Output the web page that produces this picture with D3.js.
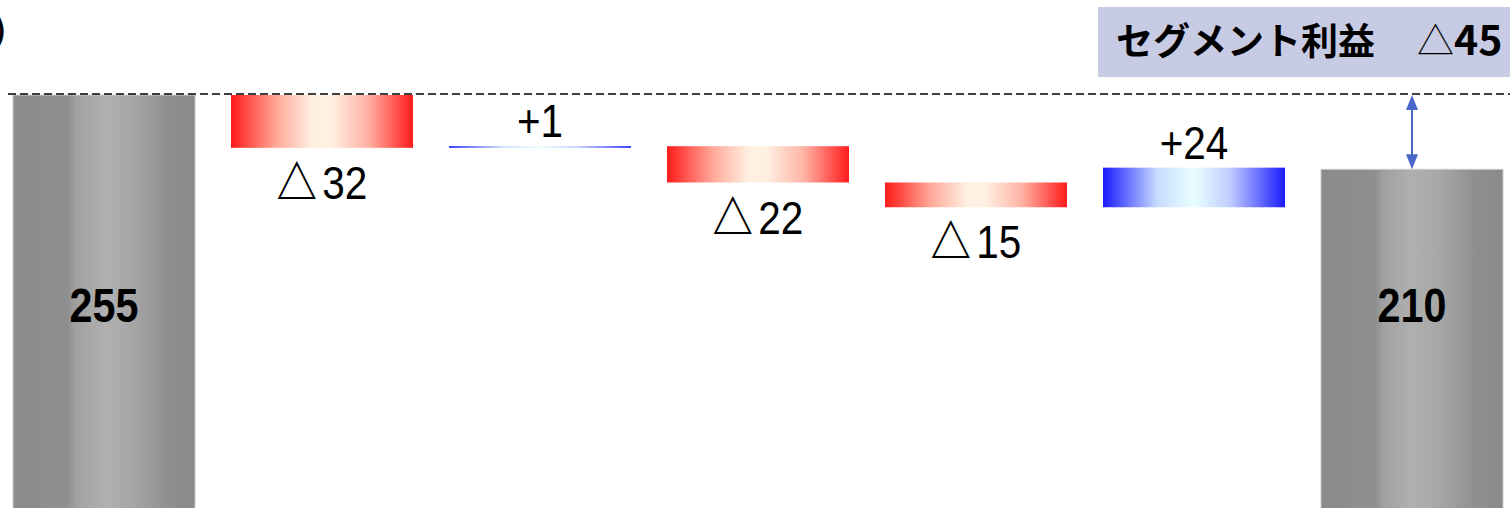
<!DOCTYPE html>
<html>
<head>
	<meta charset="utf-8">
	<title>セグメント利益</title>
	<script src="https://d3js.org/d3.v7.min.js" charset="utf-8"></script>
	<style>
		body { margin: 0; background: #fff; }
	</style>
</head>
<body>
<script type="text/javascript">
	// data
	var categories = ["前期", "要因1", "要因2", "要因3", "要因4", "要因5", "当期"];
	var startTotal = 255;
	var deltas = [-32, 1, -22, -15, 24];
	var endTotal = 210;
	var titleText = "セグメント利益";
	var unitText = "(億円)";

	var svgWidth = 1510,
	    svgHeight = 508;

	var svg = d3.select("body")
		.append("svg")
		.attr("width", svgWidth)
		.attr("height", svgHeight);

	// build waterfall steps
	var steps = [];
	var level = startTotal;
	steps.push({ cat: categories[0], kind: "total", from: 0, to: startTotal, value: startTotal });
	deltas.forEach(function(d, i) {
		steps.push({ cat: categories[i + 1], kind: d < 0 ? "neg" : "pos", from: level, to: level + d, value: d });
		level += d;
	});
	steps.push({ cat: categories[categories.length - 1], kind: "total", from: 0, to: endTotal, value: endTotal });

	var x = d3.scaleBand()
		.domain(categories)
		.range([-5, 1521])
		.paddingInner(0.165)
		.paddingOuter(0.0825);

	var y = d3.scaleLinear()
		.domain([0, startTotal])
		.range([516, 95]);

	// gradients
	var defs = svg.append("defs");
	function gradient(id, stops) {
		var g = defs.append("linearGradient")
			.attr("id", id)
			.attr("x1", "0%").attr("x2", "100%")
			.attr("y1", "0%").attr("y2", "0%");
		stops.forEach(function(s) {
			g.append("stop").attr("offset", s[0]).attr("stop-color", s[1]);
		});
	}
	gradient("gray", [[0, "#8b8b8b"], [0.3, "#8f8f8f"], [0.34, "#a0a0a0"], [0.5, "#b0b0b0"], [0.66, "#a6a6a6"], [0.85, "#8f8f8f"], [1, "#8a8a8a"]]);
	gradient("red", [[0, "#ff1a1a"], [0.25, "#ffa898"], [0.45, "#fff0e2"], [0.55, "#fff0e2"], [0.75, "#ffb4a6"], [1, "#ff1a1a"]]);
	gradient("blue", [[0, "#1a1aff"], [0.3, "#c8dcff"], [0.5, "#e8ffff"], [0.7, "#c0ccff"], [1, "#1a1aff"]]);

	var fillFor = { total: "url(#gray)", neg: "url(#red)", pos: "url(#blue)" };

	// unit label (cut off at left, as in the original slide)
	svg.append("text")
		.text(unitText)
		.attr("x", 6)
		.attr("y", 41)
		.attr("text-anchor", "end")
		.style("font-family", "'Noto Sans CJK JP', sans-serif")
		.style("font-weight", "bold")
		.style("font-size", "30px");

	// bars
	svg.selectAll(".bar")
		.data(steps)
		.enter().append("rect")
		.attr("class", "bar")
		.attr("x", function(d) { return x(d.cat); })
		.attr("width", x.bandwidth())
		.attr("y", function(d) { return y(Math.max(d.from, d.to)); })
		.attr("height", function(d) { return Math.abs(y(d.from) - y(d.to)); })
		.style("fill", function(d) { return fillFor[d.kind]; })
		.style("stroke", function(d) { return d.kind == "total" ? "#cdcdcd" : "none"; })
		.style("stroke-width", 1);

	// dashed reference line at start level
	svg.append("line")
		.attr("x1", 8)
		.attr("x2", svgWidth)
		.attr("y1", y(startTotal) - 1)
		.attr("y2", y(startTotal) - 1)
		.style("stroke", "#000")
		.style("stroke-width", 1.6)
		.style("stroke-dasharray", "8,4");

	// total labels
	svg.selectAll(".totalLabel")
		.data(steps.filter(function(d) { return d.kind == "total"; }))
		.enter().append("text")
		.attr("class", "totalLabel")
		.attr("transform", function(d) { return "translate(" + (x(d.cat) + x.bandwidth() / 2) + ",322) scale(0.86,1)"; })
		.attr("text-anchor", "middle")
		.style("font-family", "'Liberation Sans', Arial, sans-serif")
		.style("font-weight", "bold")
		.style("font-size", "48px")
		.text(function(d) { return d.value; });

	// delta labels
	var dl = svg.selectAll(".deltaLabel")
		.data(steps.filter(function(d) { return d.kind != "total"; }))
		.enter().append("text")
		.attr("class", "deltaLabel")
		.attr("transform", function(d) {
			var cx = x(d.cat) + x.bandwidth() / 2;
			var ty = d.kind == "neg" ? y(d.to) + 51 : y(d.to) - 9;
			return "translate(" + cx + "," + ty + ") scale(0.88,1)";
		})
		.attr("text-anchor", "middle")
		.style("font-family", "'Liberation Sans', Arial, sans-serif")
		.style("font-size", "46px");
	dl.append("tspan")
		.style("font-family", function(d) { return d.value < 0 ? "'Noto Sans CJK JP', sans-serif" : "'Liberation Sans', sans-serif"; })
		.style("font-weight", function(d) { return d.value < 0 ? "700" : "400"; })
		.text(function(d) { return d.value < 0 ? "△" : "+"; });
	dl.append("tspan")
		.attr("dx", function(d) { return d.value < 0 ? 6 : 0; })
		.text(function(d) { return Math.abs(d.value); });

	// difference arrow on last bar
	var last = steps[steps.length - 1];
	var ax = x(last.cat) + x.bandwidth() / 2;
	var aTop = y(startTotal), aBot = y(endTotal);
	svg.append("line")
		.attr("x1", ax).attr("x2", ax)
		.attr("y1", aTop + 8).attr("y2", aBot - 8)
		.style("stroke", "#4a66c8")
		.style("stroke-width", 2);
	svg.append("path")
		.attr("d", "M" + ax + "," + aTop + " L" + (ax - 6) + "," + (aTop + 15) + " L" + (ax + 6) + "," + (aTop + 15) + " Z")
		.style("fill", "#4a66c8");
	svg.append("path")
		.attr("d", "M" + ax + "," + aBot + " L" + (ax - 6) + "," + (aBot - 15) + " L" + (ax + 6) + "," + (aBot - 15) + " Z")
		.style("fill", "#4a66c8");

	// title box
	svg.append("rect")
		.attr("x", 1098)
		.attr("y", 7)
		.attr("width", svgWidth - 1098)
		.attr("height", 70)
		.style("fill", "#c8cbe4");

	var diff = endTotal - startTotal;
	var title = svg.append("text")
		.attr("x", 1116)
		.attr("y", 55)
		.style("font-family", "'Noto Sans CJK JP', sans-serif")
		.style("font-size", "37px");
	title.append("tspan")
		.style("font-weight", "bold")
		.text(titleText);
	title.append("tspan")
		.attr("x", 1417)
		.style("font-weight", "300")
		.text(diff < 0 ? "△" : "+");
	title.append("tspan")
		.attr("x", 1454)
		.style("font-weight", "bold")
		.style("font-size", "41px")
		.text(Math.abs(diff));
</script>
</body>
</html>
